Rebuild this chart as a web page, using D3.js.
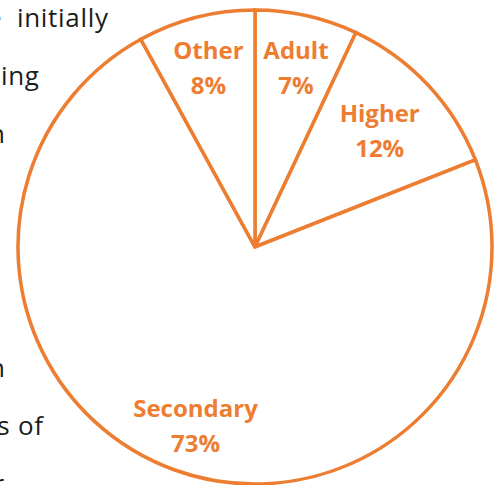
<!DOCTYPE html>
<html>
<head>
<meta charset="utf-8">
<script src="https://cdn.jsdelivr.net/npm/d3@7"></script>
<style>
  html, body { margin: 0; padding: 0; background: #fff; }
  svg { display: block; }
</style>
</head>
<body>
<svg id="chart" width="496" height="485"></svg>
<script>
// Share of enrolment by education level (percent)
const categories = ["Adult", "Higher", "Secondary", "Other"];
const shares = [7, 12, 73, 8];

// Fragments of the surrounding body text that show beside the chart
const textFragments = ["e", "initially", "ing", "n", "n", "s of", "r"];
const fragmentLines = [0, 0, 1, 2, 6, 7, 8];

const orange = "#ED7D31";
const svg = d3.select("#chart");
const cx = 255, cy = 247, R = 237;

// Body text sits underneath the chart
const lineY = d3.scaleLinear().domain([0, 1]).range([27, 85]);
const fragmentEnd = { 0: [2.2, 108.7], 1: [39.7], 2: [5.7], 6: [5.7], 7: [43.7], 8: [4.7] };
const seen = {};
svg.append("g")
  .selectAll("text")
  .data(textFragments.map((t, i) => ({ t, line: fragmentLines[i] })))
  .join("text")
  .attr("x", d => {
    const k = seen[d.line] || 0;
    seen[d.line] = k + 1;
    return fragmentEnd[d.line][k];
  })
  .attr("y", d => lineY(d.line) + (d.line >= 6 ? 2 : 0))
  .attr("text-anchor", "end")
  .attr("font-family", "'Open Sans', sans-serif")
  .attr("font-size", 26)
  .attr("letter-spacing", 0.7)
  .attr("fill", "#1c1c1c")
  .text(d => d.t);

// Pie, starting at twelve o'clock and running clockwise
const pie = d3.pie().sort(null).value(d => d.value);
const arcs = pie(categories.map((c, i) => ({ category: c, value: shares[i] })));
const arc = d3.arc().innerRadius(0).outerRadius(R);

const g = svg.append("g").attr("transform", `translate(${cx},${cy})`);

g.selectAll("path")
  .data(arcs)
  .join("path")
  .attr("d", arc)
  .attr("fill", "#fff")
  .attr("stroke", orange)
  .attr("stroke-width", 3.5)
  .attr("stroke-linejoin", "miter");

// Label placement: radius as a fraction of R, and a small angular shift (degrees)
const placement = {
  Adult:     { r: 0.74, shift: 0.9 },
  Higher:    { r: 0.695, shift: 2.4 },
  Secondary: { r: 0.83, shift: -2.2 },
  Other:     { r: 0.745, shift: -0.9 }
};
const lineGap = 35;

const labels = g.selectAll("g.label")
  .data(arcs)
  .join("g")
  .attr("class", "label")
  .attr("transform", d => {
    const p = placement[d.data.category];
    const mid = (d.startAngle + d.endAngle) / 2 + p.shift * Math.PI / 180;
    const [x, y] = d3.pointRadial(mid, p.r * R);
    return `translate(${x},${y})`;
  })
  .attr("font-family", "'Open Sans', sans-serif")
  .attr("font-weight", 700)
  .attr("font-size", 24)
  .attr("fill", orange)
  .attr("text-anchor", "middle");

labels.append("text")
  .attr("y", -lineGap / 2)
  .text(d => d.data.category);

labels.append("text")
  .attr("y", lineGap / 2)
  .text(d => d.data.value + "%");
</script>
</body>
</html>
